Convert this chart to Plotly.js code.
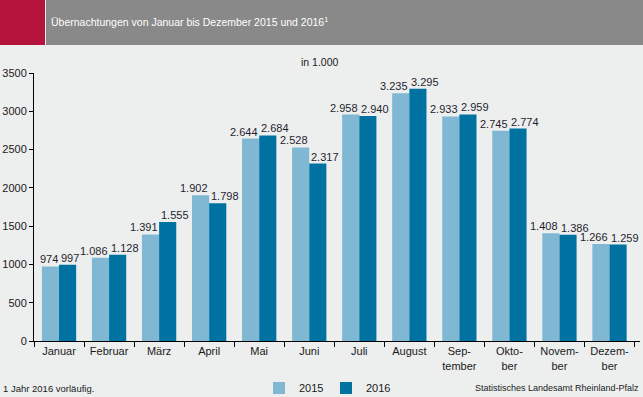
<!DOCTYPE html>
<html><head><meta charset="utf-8">
<script src="https://cdn.plot.ly/plotly-3.0.1.min.js"></script>
<style>body{margin:0;padding:0;background:#edeeee}#c{width:643px;height:397px}</style>
</head><body><div id="c"></div>
<script>
const months = ["Januar","Februar","März","April","Mai","Juni","Juli","August","Sep-<br>tember","Okto-<br>ber","Novem-<br>ber","Dezem-<br>ber"];
const v2015 = [974,1086,1391,1902,2644,2528,2958,3235,2933,2745,1408,1266];
const v2016 = [997,1128,1555,1798,2684,2317,2940,3295,2959,2774,1386,1259];
const yTicks = [0,500,1000,1500,2000,2500,3000,3500];

const W=643,H=397,L=34,R=3,T=73,B=56;
const pw=W-L-R, ph=H-T-B;
const px=x=>(x-L)/pw, py=y=>(H-B-y)/ph;
const FONT="Liberation Sans Narrow, Liberation Sans, Arial, sans-serif";
const fmt=v=>v.toLocaleString('de-DE');

const data=[
 {type:'bar',name:'2015',x:months,y:v2015,marker:{color:'#80b8d3'},hoverinfo:'skip'},
 {type:'bar',name:'2016',x:months,y:v2016,marker:{color:'#0072a2'},hoverinfo:'skip'}
];
const labelFont={family:FONT,size:11,color:'#1f1f2e'};
const valueLabels=[];
months.forEach((m,i)=>{
  valueLabels.push({xref:'x',yref:'y',x:m,y:v2015[i],xanchor:'right',yanchor:'bottom',xshift:-0.5,yshift:0,
    showarrow:false,text:fmt(v2015[i]),font:labelFont,borderpad:0});
  valueLabels.push({xref:'x',yref:'y',x:m,y:v2016[i],xanchor:'left',yanchor:'bottom',xshift:0.5,yshift:0,
    showarrow:false,text:fmt(v2016[i]),font:labelFont,borderpad:0});
});
const layout={
 width:W,height:H,margin:{l:L,r:R,t:T,b:B,autoexpand:false},
 paper_bgcolor:'#edeeee',plot_bgcolor:'#edeeee',
 separators:',.',
 font:{family:FONT,size:11,color:'#1a1a1a'},
 barmode:'group',bargap:0.315,bargroupgap:0,
 showlegend:true,
 legend:{orientation:'h',x:px(259),y:py(388),xanchor:'left',yanchor:'middle',
   font:{family:FONT,size:11,color:'#1a1a1a'},entrywidth:22,bgcolor:'rgba(0,0,0,0)',tracegroupgap:0},
 xaxis:{type:'category',showgrid:false,showline:true,linecolor:'#000',linewidth:1,
   ticks:'outside',tickson:'boundaries',ticklen:5,tickcolor:'#000',tickfont:{family:FONT,size:11,color:'#1a1a1a'},
   fixedrange:true},
 yaxis:{range:[0,3500],tickvals:yTicks,showgrid:false,zeroline:false,showline:true,linecolor:'#000',linewidth:1,
   ticks:'outside',ticklen:4,tickcolor:'#000',tickformat:'d',tickfont:{family:FONT,size:11,color:'#1a1a1a'},fixedrange:true},
 shapes:[
  {type:'rect',xref:'paper',yref:'paper',x0:px(0),x1:px(45),y0:py(45),y1:py(0),fillcolor:'#b5123c',line:{width:0},layer:'above'},
  {type:'rect',xref:'paper',yref:'paper',x0:px(46),x1:px(W),y0:py(45),y1:py(0),fillcolor:'#898989',line:{width:0},layer:'above'}
 ],
 annotations:[
  {xref:'paper',yref:'paper',x:px(49),y:py(22),xanchor:'left',yanchor:'middle',showarrow:false,
   text:'Übernachtungen von Januar bis Dezember 2015 und 2016<sup>1</sup>',font:{family:FONT,size:10.5,color:'#ffffff'}},
  {xref:'paper',yref:'paper',x:px(320),y:py(62),xanchor:'center',yanchor:'middle',showarrow:false,
   text:'in 1.000',font:{family:FONT,size:10.5,color:'#1a1a1a'}},
  {xref:'paper',yref:'paper',x:px(1),y:py(388),xanchor:'left',yanchor:'middle',showarrow:false,
   text:'1 Jahr 2016 vorläufig.',font:{family:FONT,size:9.5,color:'#1a1a1a'}},
  {xref:'paper',yref:'paper',x:px(641),y:py(388),xanchor:'right',yanchor:'middle',showarrow:false,
   text:'Statistisches Landesamt Rheinland-Pfalz',font:{family:FONT,size:9,color:'#1a1a1a'}}
 ].concat(valueLabels)
};
Plotly.newPlot('c',data,layout,{displayModeBar:false,staticPlot:true});
</script></body></html>
